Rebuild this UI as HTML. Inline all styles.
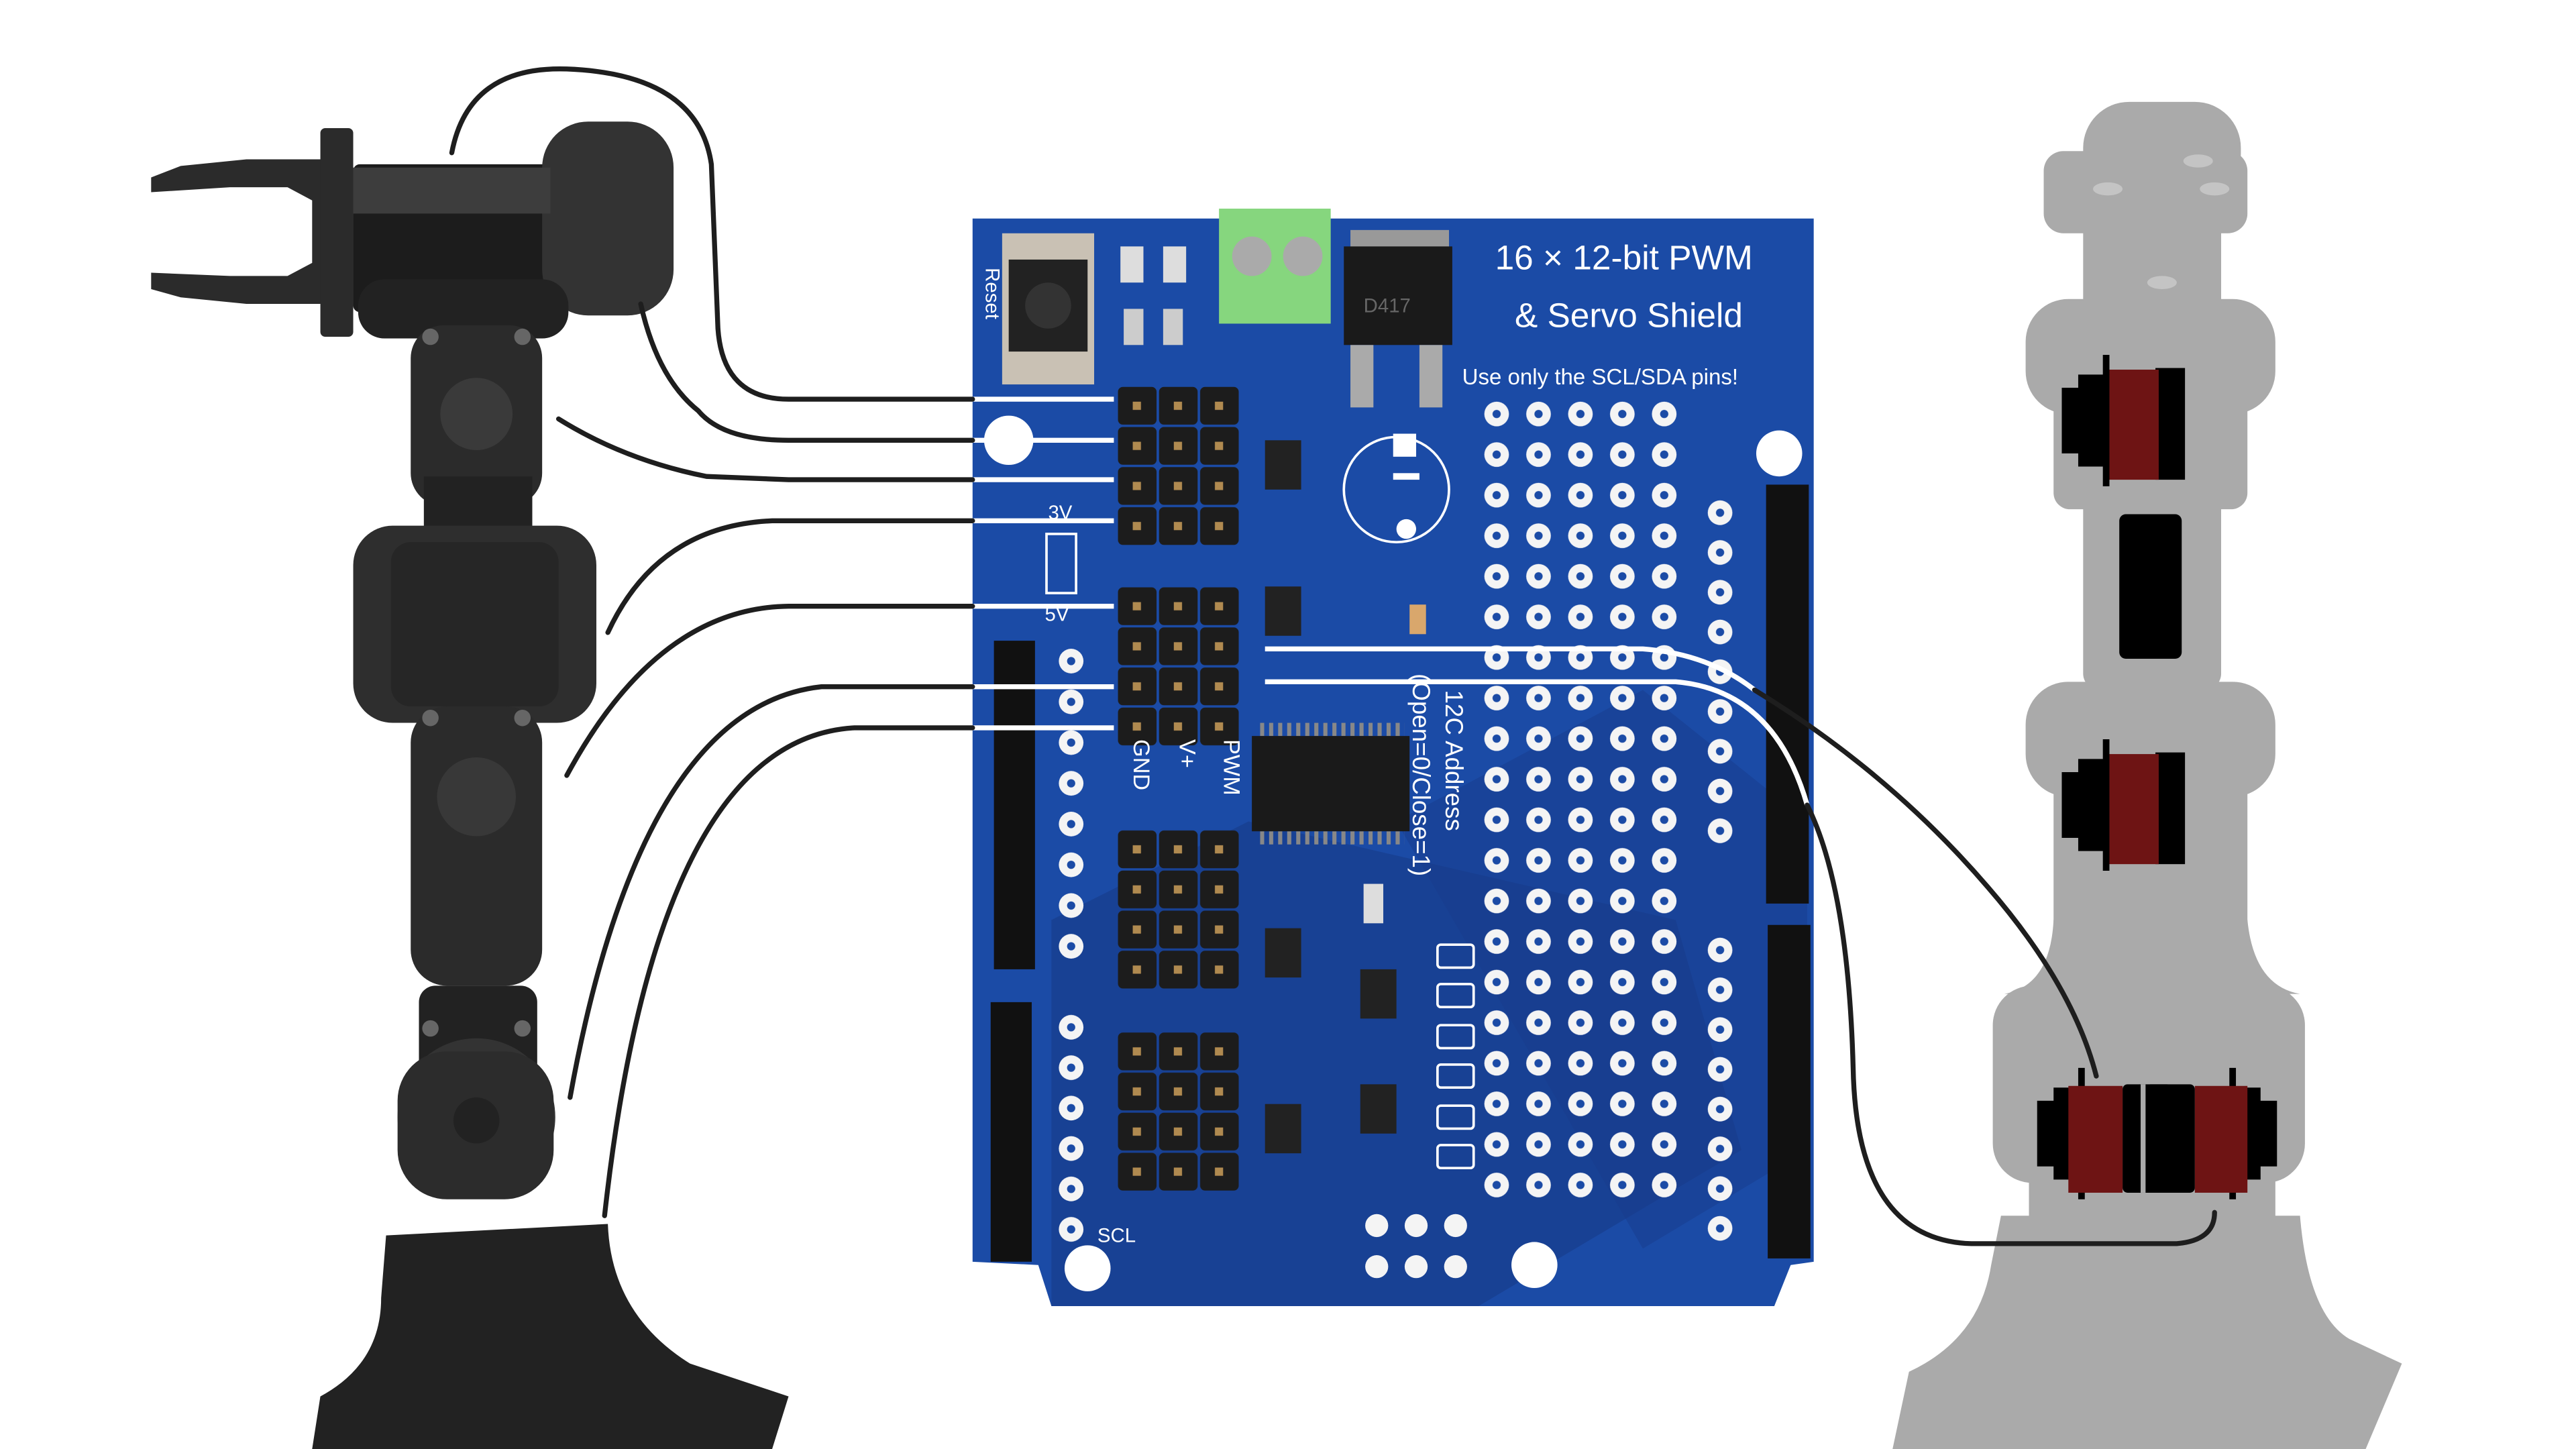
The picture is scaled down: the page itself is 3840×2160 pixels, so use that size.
<!DOCTYPE html>
<html><head><meta charset="utf-8">
<style>
html,body{margin:0;padding:0;background:#fff;width:3840px;height:2160px;overflow:hidden}
svg{display:block}
text{font-family:"Liberation Sans",sans-serif;fill:#fff}
</style></head>
<body>
<svg width="3840" height="2160" viewBox="0 0 1568 882" preserveAspectRatio="none" xmlns="http://www.w3.org/2000/svg">
<defs>
  <pattern id="holes" patternUnits="userSpaceOnUse" x="898.25" y="239.65" width="25.5" height="24.7">
    <circle cx="12.75" cy="12.35" r="7.5" fill="#f4f4f4"/><circle cx="12.75" cy="12.35" r="2.5" fill="#1b4ba6"/>
  </pattern>
  <pattern id="holesR" patternUnits="userSpaceOnUse" x="1034.25" y="300" width="25.5" height="24.2">
    <circle cx="12.75" cy="12.1" r="7.5" fill="#f4f4f4"/><circle cx="12.75" cy="12.1" r="2.5" fill="#1b4ba6"/>
  </pattern>
  <pattern id="holesL" patternUnits="userSpaceOnUse" x="639.25" y="390" width="25.5" height="24.8">
    <circle cx="12.75" cy="12.4" r="7.5" fill="#f4f4f4"/><circle cx="12.75" cy="12.4" r="2.5" fill="#1b4ba6"/>
  </pattern>
  <pattern id="holesL2" patternUnits="userSpaceOnUse" x="639.25" y="613" width="25.5" height="24.6">
    <circle cx="12.75" cy="12.3" r="7.5" fill="#f4f4f4"/><circle cx="12.75" cy="12.3" r="2.5" fill="#1b4ba6"/>
  </pattern>
  <pattern id="pinsL" patternUnits="userSpaceOnUse" x="0" y="0" width="25" height="24.4">
    <rect x="0.5" y="0.5" width="23.5" height="23" rx="3" fill="#1c1c1c"/><rect x="9.5" y="9.5" width="5" height="5" fill="#b08a50"/>
  </pattern>
  <pattern id="chippins" patternUnits="userSpaceOnUse" x="767" y="0" width="5.5" height="10">
    <rect x="0" y="0" width="2.5" height="10" fill="#888"/>
  </pattern>
</defs>
<!-- RIGHT ARM (gray) -->
<g fill="#aaaaaa">
  <rect x="1268" y="62" width="96" height="60" rx="28"/>
  <rect x="1244" y="92" width="124" height="50" rx="12"/>
  <rect x="1268" y="138" width="84" height="50" />
  <rect x="1233" y="182" width="152" height="70" rx="26"/>
  <rect x="1250" y="220" width="118" height="90" rx="10"/>
  <rect x="1268" y="300" width="84" height="120" rx="10"/>
  <rect x="1233" y="415" width="152" height="70" rx="26"/>
  <rect x="1250" y="460" width="118" height="110" />
  <path d="M1250 560 L1368 560 Q1372 600 1400 605 L1220 605 Q1248 600 1250 560Z"/>
  <rect x="1213" y="600" width="190" height="120" rx="24"/>
  <rect x="1235" y="700" width="150" height="60"/>
  <path d="M1218 740 L1400 740 Q1405 800 1430 815 L1462 830 L1440 882 L1152 882 L1162 835 Q1205 815 1212 770Z"/>
</g>
<g fill="#c4c4c4">
  <ellipse cx="1283" cy="115" rx="9" ry="4"/><ellipse cx="1348" cy="115" rx="9" ry="4"/>
  <ellipse cx="1316" cy="172" rx="9" ry="4"/><ellipse cx="1338" cy="98" rx="9" ry="4"/>
</g>
<g fill="#000">
  <path d="M1255 236 h10 v-8 h15 v-12 h4 v80 h-4 v-12 h-15 v-8 h-10z"/>
  <rect x="1312" y="224" width="18" height="68"/>
  <rect x="1290" y="313" width="38" height="88" rx="4"/>
  <path d="M1255 470 h10 v-8 h15 v-12 h4 v80 h-4 v-12 h-15 v-8 h-10z"/>
  <rect x="1312" y="458" width="18" height="68"/>
  <path d="M1240 670 h10 v-8 h15 v-12 h4 v80 h-4 v-12 h-15 v-8 h-10z"/>
  <rect x="1292" y="660" width="30" height="66" rx="3"/>
  <rect x="1306" y="660" width="30" height="66" rx="3"/>
  <path d="M1386 670 h-10 v-8 h-15 v-12 h-4 v80 h4 v-12 h15 v-8 h10z"/>
</g>
<rect x="1303" y="660" width="3" height="66" fill="#aaa"/>
<g fill="#6e1414">
  <rect x="1284" y="225" width="30" height="67"/>
  <rect x="1284" y="459" width="30" height="67"/>
  <rect x="1259" y="661" width="33" height="65"/>
  <rect x="1336" y="661" width="32" height="65"/>
</g>

<!-- LEFT ARM (dark) -->
<g fill="#2b2b2b">
  <path d="M92 108 L110 101 L150 97 L200 97 L200 185 L150 185 L110 181 L92 176 L92 166 L140 168 L175 168 L190 160 L190 122 L175 114 L140 114 L92 117Z"/>
  <rect x="195" y="78" width="20" height="127" rx="3"/>
  <rect x="215" y="100" width="130" height="90" rx="4" fill="#1c1c1c"/>
  <rect x="330" y="74" width="80" height="118" rx="28" fill="#333"/>
  <rect x="215" y="102" width="120" height="28" fill="#3d3d3d"/>
  <rect x="218" y="170" width="128" height="36" rx="16" fill="#222"/>
  <rect x="250" y="198" width="80" height="110" rx="20"/>
  <circle cx="290" cy="252" r="22" fill="#3a3a3a"/>
  <rect x="258" y="290" width="66" height="40" fill="#222"/>
  <rect x="215" y="320" width="148" height="120" rx="24" fill="#2e2e2e"/>
  <rect x="238" y="330" width="102" height="100" rx="12" fill="#262626"/>
  <rect x="250" y="430" width="80" height="170" rx="22"/>
  <circle cx="290" cy="485" r="24" fill="#383838"/>
  <rect x="255" y="600" width="72" height="60" rx="10" fill="#222"/>
  <circle cx="290" cy="680" r="48" fill="#333"/>
  <rect x="242" y="640" width="95" height="90" rx="30" fill="#2c2c2c"/>
  <circle cx="290" cy="682" r="14" fill="#222"/>
  <path d="M235 752 L370 745 Q372 800 420 830 L480 850 L470 882 L190 882 L195 850 Q232 830 232 790Z" fill="#222"/>
</g>
<g fill="#666"><circle cx="262" cy="205" r="5"/><circle cx="318" cy="205" r="5"/><circle cx="262" cy="437" r="5"/><circle cx="318" cy="437" r="5"/><circle cx="262" cy="626" r="5"/><circle cx="318" cy="626" r="5"/></g>

<!-- PCB -->
<path d="M592 133 L1104 133 L1104 768 L1090 770 L1080 795 L640 795 L632 770 L592 768Z" fill="#1b4ba6"/>
<path d="M640 560 L760 500 L1020 560 L1060 700 L900 795 L640 795Z" fill="#183a88" opacity="0.6"/>
<path d="M850 500 L1000 420 L1100 500 L1100 700 L1000 760Z" fill="#183c8c" opacity="0.5"/>
<g fill="#fff">
  <circle cx="614" cy="268" r="15"/><circle cx="1083" cy="276" r="14"/>
  <circle cx="662" cy="772" r="14"/><circle cx="934" cy="770" r="14"/>
</g>
<rect x="742" y="127" width="68" height="70" fill="#86d67e"/>
<circle cx="762" cy="156" r="12" fill="#aaa"/><circle cx="793" cy="156" r="12" fill="#aaa"/>
<rect x="822" y="140" width="60" height="12" fill="#999"/>
<rect x="818" y="150" width="66" height="60" fill="#1a1a1a"/>
<rect x="822" y="210" width="14" height="38" fill="#aaa"/><rect x="864" y="210" width="14" height="38" fill="#aaa"/>
<text x="830" y="190" font-size="12" style="fill:#666">D417</text>
<rect x="610" y="142" width="56" height="92" fill="#c9c1b4"/>
<rect x="614" y="158" width="48" height="56" fill="#222"/>
<circle cx="638" cy="186" r="14" fill="#333"/>
<rect x="682" y="150" width="14" height="22" fill="#ddd"/><rect x="708" y="150" width="14" height="22" fill="#ddd"/>
<rect x="684" y="188" width="12" height="22" fill="#ccc"/><rect x="708" y="188" width="12" height="22" fill="#ccc"/>
<text x="910" y="164" font-size="21">16 × 12-bit PWM</text>
<text x="922" y="199" font-size="21">&amp; Servo Shield</text>
<text x="890" y="234" font-size="13.5">Use only the SCL/SDA pins!</text>
<circle cx="850" cy="298" r="32" fill="none" stroke="#fff" stroke-width="1.5"/>
<rect x="848" y="264" width="14" height="14" fill="#fff"/><circle cx="856" cy="322" r="6" fill="#fff"/>
<rect x="848" y="288" width="16" height="4" fill="#fff"/>
<!-- holes -->
<rect x="898.25" y="239.65" width="127.5" height="494" fill="url(#holes)"/>
<rect x="1034.25" y="300" width="25.5" height="218" fill="url(#holesR)"/>
<rect x="1034.25" y="565" width="25.5" height="194" fill="url(#holesR)"/>
<rect x="639.25" y="390" width="25.5" height="198" fill="url(#holesL)"/>
<rect x="639.25" y="613" width="25.5" height="148" fill="url(#holesL2)"/>
<g fill="#f4f4f4"><circle cx="838" cy="746" r="7"/><circle cx="862" cy="746" r="7"/><circle cx="886" cy="746" r="7"/><circle cx="838" cy="771" r="7"/><circle cx="862" cy="771" r="7"/><circle cx="886" cy="771" r="7"/></g>
<g fill="none" stroke="#fff" stroke-width="1.5">
  <rect x="875" y="575" width="22" height="14" rx="2"/><rect x="875" y="599" width="22" height="14" rx="2"/>
  <rect x="875" y="624" width="22" height="14" rx="2"/><rect x="875" y="648" width="22" height="14" rx="2"/>
  <rect x="875" y="673" width="22" height="14" rx="2"/><rect x="875" y="697" width="22" height="14" rx="2"/>
  <rect x="637" y="325" width="18" height="36"/>
</g>
<!-- pin headers -->
<svg x="680" y="235" width="75" height="98"><rect width="75" height="97.6" fill="url(#pinsL)"/></svg>
<svg x="680" y="357" width="75" height="98"><rect width="75" height="97.6" fill="url(#pinsL)"/></svg>
<svg x="680" y="505" width="75" height="98"><rect width="75" height="97.6" fill="url(#pinsL)"/></svg>
<svg x="680" y="628" width="75" height="98"><rect width="75" height="97.6" fill="url(#pinsL)"/></svg>
<g fill="#222">
  <rect x="770" y="268" width="22" height="30"/><rect x="770" y="357" width="22" height="30"/>
  <rect x="770" y="565" width="22" height="30"/><rect x="770" y="672" width="22" height="30"/>
  <rect x="828" y="590" width="22" height="30"/><rect x="828" y="660" width="22" height="30"/>
</g>
<!-- chip -->
<rect x="767" y="440" width="88" height="8" fill="url(#chippins)"/>
<rect x="767" y="506" width="88" height="8" fill="url(#chippins)"/>
<rect x="762" y="448" width="96" height="58" fill="#1a1a1a"/>
<rect x="858" y="368" width="10" height="18" fill="#d9a76c"/>
<rect x="830" y="538" width="12" height="24" fill="#ddd"/>
<!-- Arduino headers -->
<g fill="#111">
  <rect x="1075" y="295" width="26" height="255"/>
  <rect x="1076" y="563" width="26" height="203"/>
  <rect x="605" y="390" width="25" height="200"/>
  <rect x="603" y="610" width="25" height="158"/>
</g>
<g font-size="12">
  <text x="638" y="316">3V</text><text x="636" y="378">5V</text>
  <text x="668" y="756">SCL</text>
</g>
<g transform="rotate(90 690 470)"><text x="670" y="470" font-size="14">GND</text></g>
<g transform="rotate(90 718 470)"><text x="698" y="470" font-size="14">V+</text></g>
<g transform="rotate(90 745 470)"><text x="725" y="470" font-size="14">PWM</text></g>
<g transform="rotate(90 880 480)"><text x="820" y="480" font-size="15">12C Address</text></g>
<g transform="rotate(90 860 480)"><text x="790" y="480" font-size="15">(Open=0/Close=1)</text></g>
<g transform="rotate(90 600 185)"><text x="578" y="185" font-size="12">Reset</text></g>

<!-- wires -->
<g fill="none" stroke="#fff" stroke-width="3">
  <path d="M592 243H678M592 268H678M592 292H678M592 317H678M592 369H678M592 418H678M592 443H678"/>
  <path d="M770 395 H1000 Q1040 398 1068 420"/>
  <path d="M770 415 H1020 Q1080 420 1100 490"/>
</g>
<g fill="none" stroke="#1e1e1e" stroke-width="3" stroke-linecap="round">
  <path d="M275 93 Q285 40 345 42 Q425 45 433 100 L437 200 Q440 243 480 243 H592"/>
  <path d="M390 185 Q400 230 425 250 Q440 268 480 268 H592"/>
  <path d="M340 255 Q380 280 430 290 L480 292 H592"/>
  <path d="M370 385 Q400 320 470 317 H592"/>
  <path d="M345 472 Q400 370 480 369 H592"/>
  <path d="M347 668 Q390 430 500 418 H592"/>
  <path d="M368 740 Q400 450 520 443 H592"/>
  <path d="M1068 420 Q1150 470 1210 540 Q1262 600 1276 655"/>
  <path d="M1100 490 Q1125 540 1128 650 Q1130 755 1200 757 H1325 Q1348 755 1348 738"/>
</g>
</svg>
</body></html>
